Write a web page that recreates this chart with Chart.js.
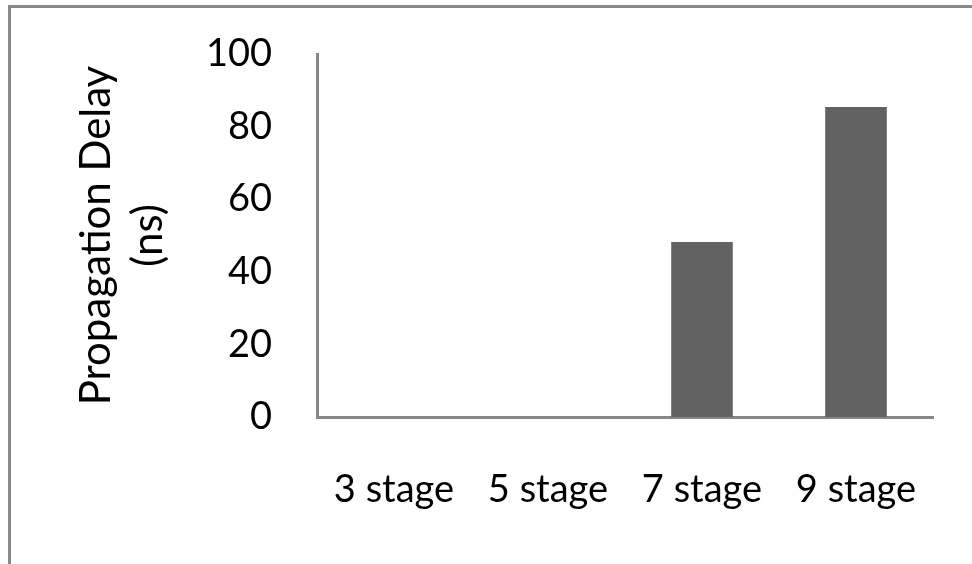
<!DOCTYPE html>
<html>
<head>
<meta charset="utf-8">
<title>Propagation Delay</title>
<script src="https://cdn.jsdelivr.net/npm/chart.js@4.4.1/dist/chart.umd.min.js"></script>
<style>
  html, body { margin: 0; padding: 0; background: #ffffff; }
  #wrap { position: relative; width: 972px; height: 564px; }
</style>
</head>
<body>
<div id="wrap"><canvas id="chart" width="972" height="564"></canvas></div>
<script>
// Ring oscillator stages and their measured propagation delay (ns)
const stages = ['3 stage', '5 stage', '7 stage', '9 stage'];
const delayNs = [0, 0, 48.2, 85.4];
const yTicks = [0, 20, 40, 60, 80, 100];
const yTitle = ['Propagation Delay', '(ns)'];

const FONT = 'Lato, "Liberation Sans", sans-serif';
const AXIS_GREY = '#878787';
const BAR_GREY = '#626262';

// Thin frame along the top and left edges of the figure
const framePlugin = {
  id: 'frame',
  beforeDraw(chart) {
    const ctx = chart.ctx;
    ctx.save();
    ctx.fillStyle = '#ffffff';
    ctx.fillRect(0, 0, chart.width, chart.height);
    ctx.strokeStyle = '#898989';
    ctx.lineWidth = 3;
    ctx.beginPath();
    ctx.moveTo(9.5, chart.height);
    ctx.lineTo(9.5, 6.5);
    ctx.lineTo(chart.width, 6.5);
    ctx.stroke();
    ctx.restore();
  }
};

new Chart(document.getElementById('chart'), {
  type: 'bar',
  data: {
    labels: stages,
    datasets: [{
      data: delayNs,
      backgroundColor: BAR_GREY,
      borderWidth: 0,
      categoryPercentage: 1.0,
      barPercentage: 0.4
    }]
  },
  options: {
    responsive: false,
    animation: false,
    devicePixelRatio: 1,
    layout: { padding: { left: 70, right: 39, top: 54, bottom: 47 } },
    plugins: {
      legend: { display: false },
      tooltip: { enabled: false }
    },
    scales: {
      x: {
        afterFit(scale) {
          scale.height = 100;
          scale.paddingLeft = 0;
          scale.paddingRight = 0;
        },
        grid: { display: false, drawTicks: false },
        border: { display: true, color: AXIS_GREY, width: 3 },
        ticks: {
          color: '#000000',
          font: { family: FONT, size: 38 },
          padding: 50,
          maxRotation: 0,
          autoSkip: false
        }
      },
      y: {
        min: 0,
        max: 100,
        afterBuildTicks(scale) { scale.ticks = yTicks.map(v => ({ value: v })); },
        afterFit(scale) {
          scale.width = 247;
          scale.paddingTop = 0;
          scale.paddingBottom = 0;
        },
        grid: { display: false, drawTicks: false },
        border: { display: true, color: AXIS_GREY, width: 3 },
        ticks: {
          color: '#000000',
          font: { family: FONT, size: 38 },
          padding: 45
        },
        title: {
          display: true,
          text: yTitle,
          color: '#000000',
          font: { family: FONT, size: 42, lineHeight: 1.25 },
          padding: { top: 0, bottom: 28 }
        }
      }
    }
  },
  plugins: [framePlugin]
});
</script>
</body>
</html>
